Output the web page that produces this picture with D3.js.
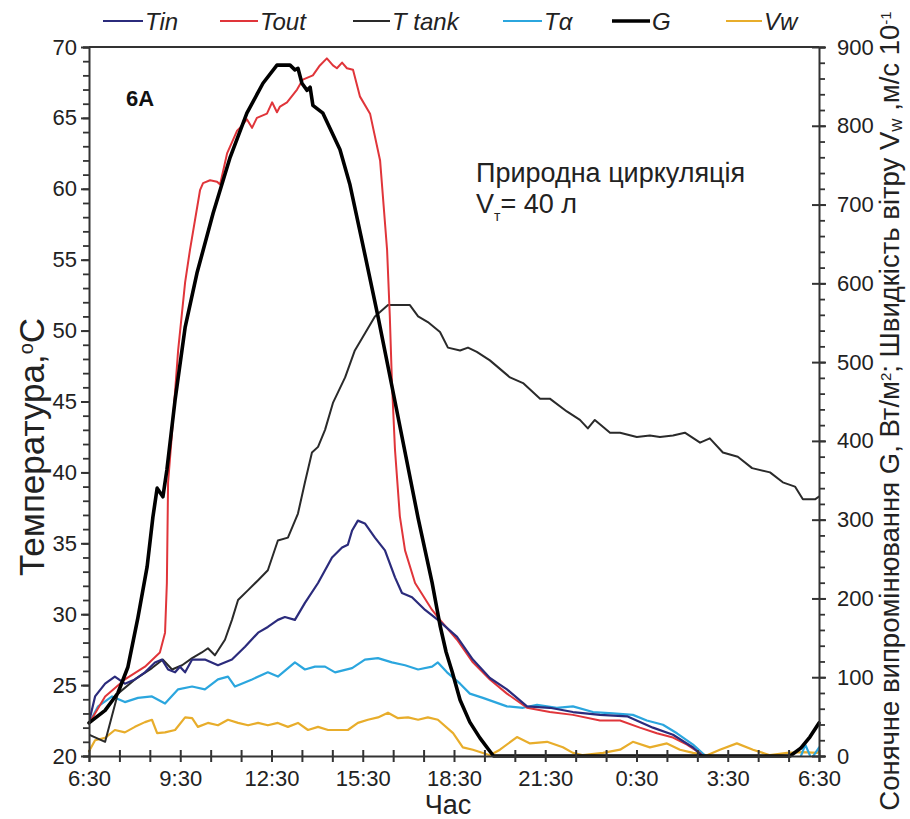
<!DOCTYPE html>
<html><head><meta charset="utf-8">
<script src="https://cdn.jsdelivr.net/npm/d3@7"></script>
<style>body{margin:0;background:#fff}svg{display:block;font-family:"Liberation Sans",Arial,sans-serif}</style>
</head><body><svg id="c" width="910" height="819"></svg>
<script>
// time in hours after 6:30
const xTickLabels = ["6:30","9:30","12:30","15:30","18:30","21:30","0:30","3:30","6:30"];
const yLeftTicks = [20,25,30,35,40,45,50,55,60,65,70];
const yRightTicks = [0,100,200,300,400,500,600,700,800,900];

const tin = [[0,22.4],[0.2,24.2],[0.53,25.1],[0.85,25.6],[1.18,25.1],[1.51,25.4],[1.84,25.9],[2.17,26.6],[2.4,26.8],[2.6,26.1],[2.83,25.9],[2.99,26.3],[3.16,25.9],[3.39,26.8],[3.81,26.8],[4.24,26.4],[4.7,26.8],[5.13,27.7],[5.56,28.7],[5.88,29.1],[6.21,29.6],[6.44,29.8],[6.77,29.6],[7.1,30.8],[7.53,32.2],[7.99,34.0],[8.32,34.7],[8.51,34.9],[8.65,35.9],[8.84,36.6],[9.07,36.4],[9.4,35.4],[9.73,34.5],[10.06,32.6],[10.29,31.5],[10.62,31.2],[11.05,30.3],[11.47,29.6],[12.1,28.4],[12.62,26.8],[13.18,25.5],[13.74,24.7],[14.4,23.5],[15.15,23.4],[15.91,23.1],[16.8,22.9],[17.69,22.8],[18.54,22.0],[19.2,21.5],[19.86,20.6],[20.32,19.7],[20.6,19.4]];

const tout = [[0,22.3],[0.53,24.2],[1.18,25.4],[1.84,26.3],[2.33,27.3],[2.5,28.7],[2.56,32.2],[2.6,39.3],[2.73,42.8],[2.93,48.6],[3.16,53.4],[3.32,55.7],[3.65,59.9],[3.75,60.4],[3.98,60.6],[4.21,60.5],[4.31,60.3],[4.54,62.5],[4.87,64.1],[4.96,64.3],[5.19,64.9],[5.36,64.3],[5.52,65.0],[5.85,65.3],[6.02,66.1],[6.18,65.4],[6.28,65.8],[6.51,66.1],[6.84,67.0],[7.03,67.7],[7.36,68.0],[7.59,68.7],[7.82,69.2],[8.02,68.7],[8.15,68.5],[8.32,68.9],[8.48,68.5],[8.68,68.4],[8.91,66.5],[9.24,65.3],[9.57,62.0],[9.8,55.7],[9.89,51.0],[9.96,46.3],[10.06,41.6],[10.22,36.9],[10.39,34.5],[10.72,32.2],[11.28,30.3],[11.54,29.6],[12.1,28.2],[12.62,26.6],[13.18,25.4],[13.74,24.4],[14.4,23.4],[15.15,23.1],[15.91,22.9],[16.8,22.5],[17.46,22.5],[18.11,22.0],[18.67,21.6],[19.2,21.3],[19.66,20.8],[20.09,20.2],[20.32,19.7],[20.6,19.4]];

const ttank = [[0,21.5],[0.53,21.0],[0.95,24.4],[1.51,25.4],[2.07,26.2],[2.43,26.8],[2.73,26.1],[3.06,26.4],[3.39,26.9],[3.71,27.3],[3.91,27.6],[4.14,27.1],[4.47,28.2],[4.7,29.6],[4.9,31.0],[5.23,31.7],[5.56,32.4],[5.88,33.1],[6.21,35.2],[6.54,35.4],[6.87,37.1],[7.1,39.3],[7.33,41.4],[7.53,41.8],[7.76,43.0],[8.02,44.9],[8.42,46.7],[8.74,48.6],[9.07,49.8],[9.4,51.0],[9.83,51.8],[10.55,51.8],[10.82,51.0],[11.14,50.6],[11.54,49.9],[11.8,48.8],[12.2,48.6],[12.46,48.8],[12.75,48.5],[13.18,47.9],[13.84,46.7],[14.27,46.3],[14.83,45.2],[15.15,45.2],[15.71,44.3],[16.14,43.7],[16.4,43.1],[16.63,43.7],[17.13,42.8],[17.46,42.8],[18.01,42.5],[18.44,42.6],[18.77,42.5],[19.2,42.6],[19.59,42.8],[20.09,42.1],[20.41,42.4],[20.84,41.4],[21.33,41.1],[21.8,40.3],[22.39,40.0],[22.81,39.3],[23.21,39.0],[23.47,38.1],[23.87,38.1],[24,38.3]];

const ta = [[0,22.3],[0.3,23.5],[0.76,24.2],[1.18,23.8],[1.61,24.1],[2.07,24.2],[2.5,23.7],[2.93,24.7],[3.39,24.9],[3.81,24.7],[4.24,25.4],[4.57,25.6],[4.8,24.9],[5.36,25.4],[5.88,25.9],[6.21,25.6],[6.77,26.6],[7.1,26.1],[7.43,26.3],[7.76,26.3],[8.09,25.9],[8.65,26.2],[9.07,26.8],[9.5,26.9],[9.96,26.6],[10.39,26.4],[10.82,26.1],[11.28,26.3],[11.47,26.6],[11.77,25.9],[12.2,25.1],[12.52,24.4],[12.95,24.1],[13.74,23.5],[14.27,23.4],[14.73,23.6],[15.38,23.4],[15.91,23.5],[16.57,23.1],[17.23,23.0],[17.88,22.9],[18.34,22.5],[18.87,22.2],[19.33,21.6],[19.86,20.8],[20.32,19.9],[20.6,19.4],[23.3,19.4],[23.55,20.8],[23.75,19.8],[24,20.6]];

const g = [[0,42],[0.53,58],[0.95,80],[1.28,113],[1.61,176],[1.91,240],[2.1,303],[2.24,340],[2.43,329],[2.56,363],[2.83,452],[3.16,544],[3.55,613],[4.08,689],[4.64,760],[5.19,816],[5.72,854],[6.18,877],[6.61,877],[6.77,871],[6.87,873],[7.0,854],[7.17,845],[7.27,849],[7.36,826],[7.69,816],[8.25,770],[8.58,725],[8.97,655],[9.5,558],[10.06,450],[10.82,302],[11.28,220],[11.54,166],[11.74,132],[11.94,107],[12.2,71],[12.52,43],[12.85,23],[13.18,6],[13.3,0],[23.05,0],[23.4,10],[23.7,24],[24,42]];

const vw = [[0,6],[0.2,20],[0.53,23],[0.85,33],[1.18,30],[1.51,37],[1.84,43],[2.07,46],[2.24,29],[2.5,30],[2.83,33],[3.16,49],[3.39,48],[3.58,37],[3.91,42],[4.24,39],[4.57,46],[4.9,42],[5.23,39],[5.56,42],[5.88,39],[6.21,42],[6.54,37],[6.87,42],[7.2,33],[7.53,37],[7.86,33],[8.19,33],[8.51,33],[8.84,42],[9.17,46],[9.5,49],[9.83,55],[10.16,48],[10.49,49],[10.82,46],[11.14,49],[11.47,46],[11.97,29],[12.29,11],[12.62,8],[13.18,1],[13.51,8],[14.07,24],[14.5,16],[15.06,18],[15.58,11],[15.91,4],[16.24,1],[16.9,4],[17.46,8],[17.88,18],[18.44,11],[19.0,16],[19.43,8],[19.86,4],[20.32,1],[20.74,8],[21.3,16],[21.83,8],[22.39,1],[22.95,4],[23.47,5],[23.93,4],[24,5]];

const seriesNames = ["Tin","Tout","T tank","Tα","G","Vw"];
const seriesColors = ["#2b2b7c","#e0353a","#2a2a2a","#2ba6de","#000000","#e8ad2b"];

const svg = d3.select("#c");
const L = 89, R = 819, T = 47, B = 756;
const x = d3.scaleLinear().domain([0,24]).range([L,R]);
const yL = d3.scaleLinear().domain([20,70]).range([B,T]);
const yR = d3.scaleLinear().domain([0,900]).range([B,T]);

svg.append("clipPath").attr("id","clip").append("rect").attr("x",L).attr("y",T).attr("width",R-L).attr("height",B-T);

const lineL = d3.line().x(d=>x(d[0])).y(d=>yL(d[1]));
const lineR = d3.line().x(d=>x(d[0])).y(d=>yR(d[1]));

function draw(data, gen, color, w, clip){
  const p = svg.append("path").datum(data).attr("d",gen).attr("fill","none")
    .attr("stroke",color).attr("stroke-width",w).attr("stroke-linejoin","round").attr("stroke-linecap","round");
  if(clip) p.attr("clip-path","url(#clip)");
}
draw(vw, lineR, seriesColors[5], 2.2, false);
draw(ta, lineL, seriesColors[3], 2.2, true);
draw(ttank, lineL, seriesColors[2], 2, true);
draw(tout, lineL, seriesColors[1], 2, true);
draw(tin, lineL, seriesColors[0], 2.2, true);
draw(g, lineR, seriesColors[4], 3.6, false);

// frame
const axisColor = "#333";
svg.append("line").attr("x1",L).attr("x2",R).attr("y1",T).attr("y2",T).attr("stroke",axisColor).attr("stroke-width",2);

const tickFont = 22;
// left axis
const gl = svg.append("g").attr("transform",`translate(${L},0)`)
  .call(d3.axisLeft(yL).tickValues(d3.range(20,71,1)).tickSize(6).tickFormat(""));
gl.select(".domain").attr("stroke",axisColor).attr("stroke-width",2);
gl.selectAll(".tick line").attr("stroke",axisColor).attr("stroke-width",1.8);
const glM = svg.append("g").attr("transform",`translate(${L},0)`)
  .call(d3.axisLeft(yL).tickValues(yLeftTicks).tickSize(8).tickPadding(4).tickFormat(d3.format("d")));
glM.select(".domain").remove();
glM.selectAll(".tick line").attr("stroke",axisColor).attr("stroke-width",2);
glM.selectAll("text").attr("font-size",tickFont).attr("fill","#222").attr("font-family","Liberation Sans, Arial");

// right axis
const gr = svg.append("g").attr("transform",`translate(${R},0)`)
  .call(d3.axisRight(yR).tickValues(d3.range(0,901,20)).tickSize(6).tickFormat(""));
gr.select(".domain").attr("stroke",axisColor).attr("stroke-width",2);
gr.selectAll(".tick line").attr("stroke",axisColor).attr("stroke-width",1.8);
const grM = svg.append("g").attr("transform",`translate(${R},0)`)
  .call(d3.axisRight(yR).tickValues(yRightTicks).tickSizeInner(6).tickSizeOuter(0).tickPadding(12).tickFormat(d3.format("d")));
grM.select(".domain").remove();
grM.selectAll(".tick line").attr("x1",-7).attr("x2",7).attr("stroke",axisColor).attr("stroke-width",2);
grM.selectAll("text").attr("font-size",tickFont).attr("fill","#222").attr("font-family","Liberation Sans, Arial");

// bottom axis
const gb = svg.append("g").attr("transform",`translate(0,${B})`)
  .call(d3.axisBottom(x).tickValues(d3.range(0,25,1)).tickSize(6).tickFormat(""));
gb.select(".domain").attr("stroke",axisColor).attr("stroke-width",2);
gb.selectAll(".tick line").attr("y1",-6).attr("y2",6).attr("stroke",axisColor).attr("stroke-width",2);
const gbM = svg.append("g").attr("transform",`translate(0,${B})`)
  .call(d3.axisBottom(x).tickValues(d3.range(0,25,3)).tickSize(6).tickPadding(8).tickFormat((d,i)=>xTickLabels[i]));
gbM.select(".domain").remove();
gbM.selectAll(".tick line").remove();
gbM.selectAll("text").attr("font-size",tickFont).attr("fill","#222").attr("font-family","Liberation Sans, Arial");

// axis titles
svg.append("text").attr("x",448).attr("y",814).attr("text-anchor","middle").attr("font-size",27).attr("fill","#222").text("Час");

const lt = svg.append("text").attr("transform","translate(44,447) rotate(-90)").attr("text-anchor","middle").attr("font-size",35).attr("fill","#222");
lt.append("tspan").text("Температура,");
lt.append("tspan").attr("baseline-shift","super").attr("font-size",20).text("o");
lt.append("tspan").text("C");

const rt = svg.append("text").attr("transform","translate(899,411) rotate(-90)").attr("text-anchor","middle").attr("font-size",27.5).attr("fill","#222");
rt.append("tspan").text("Сонячне випромінювання G, Вт/м");
rt.append("tspan").attr("baseline-shift","super").attr("font-size",15).text("2");
rt.append("tspan").text("; Швидкість вітру V");
rt.append("tspan").attr("baseline-shift","-3").attr("font-size",14).text("W");
rt.append("tspan").text(" ,м/с 10");
rt.append("tspan").attr("baseline-shift","super").attr("font-size",15).text("-1");

// annotations
svg.append("text").attr("x",126).attr("y",106).attr("font-size",22).attr("font-weight","bold").attr("fill","#111").text("6A");
svg.append("text").attr("x",476).attr("y",182).attr("font-size",27).attr("fill","#222").text("Природна циркуляція");
const vt = svg.append("text").attr("x",476).attr("y",213).attr("font-size",27).attr("fill","#222");
vt.append("tspan").text("V");
vt.append("tspan").attr("baseline-shift","sub").attr("font-size",14).text("т");
vt.append("tspan").text("= 40 л");

// legend
const legX = [103,220,353,503,612,726];
const legLen = [40,38,37,39,38,36];
const legW = [2.2,2,2,2.2,3.6,2.2];
seriesNames.forEach((n,i)=>{
  svg.append("line").attr("x1",legX[i]).attr("x2",legX[i]+legLen[i]).attr("y1",21).attr("y2",21)
    .attr("stroke",seriesColors[i]).attr("stroke-width",legW[i]);
  svg.append("text").attr("x",legX[i]+legLen[i]+2).attr("y",30).attr("font-size",24).attr("font-style","italic")
    .attr("fill","#222").text(n);
});
</script></body></html>
